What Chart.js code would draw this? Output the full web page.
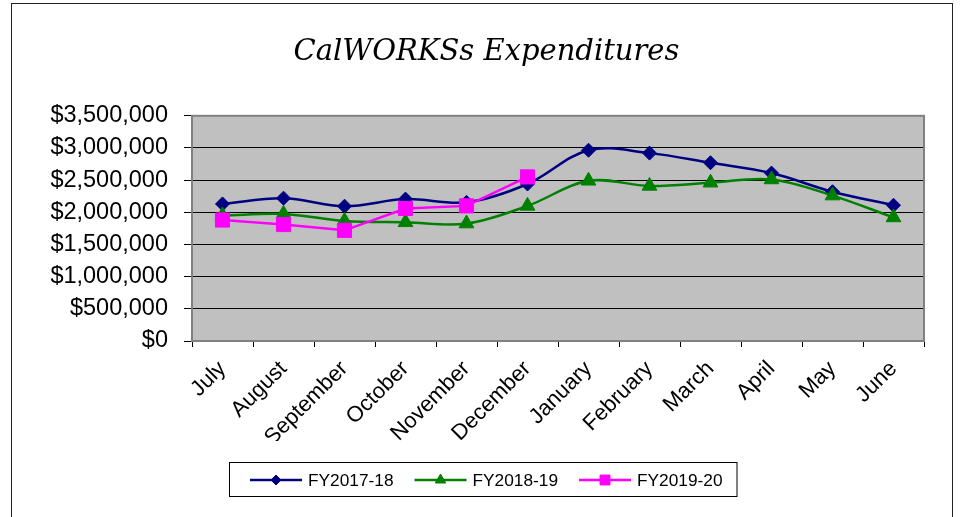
<!DOCTYPE html>
<html>
<head>
<meta charset="utf-8">
<script src="https://cdn.jsdelivr.net/npm/chart.js@4.4.1/dist/chart.umd.min.js"></script>
<style>
  html, body { margin: 0; padding: 0; background: #fff; overflow: hidden; }
  #marco { position: absolute; left: 11px; top: 3px; width: 940px; height: 540px; border: 1px solid #222; }
  #lienzo { position: absolute; left: 0; top: 0; }
</style>
</head>
<body>
<div id="marco"></div>
<canvas id="lienzo" width="960" height="517"></canvas>
<script>
    // datos
    const meses = ['July', 'August', 'September', 'October', 'November', 'December',
                   'January', 'February', 'March', 'April', 'May', 'June'];
    const nombresSeries = ['FY2017-18', 'FY2018-19', 'FY2019-20'];
    const fy1718 = [2130000, 2220000, 2095000, 2205000, 2155000, 2440000, 2965000, 2920000, 2770000, 2610000, 2320000, 2110000];
    const fy1819 = [1950000, 1975000, 1865000, 1845000, 1825000, 2100000, 2490000, 2410000, 2460000, 2510000, 2260000, 1920000];
    const fy1920 = [1880000, 1810000, 1720000, 2060000, 2100000, 2550000, null, null, null, null, null, null];
    const ticksY = [0, 500000, 1000000, 1500000, 2000000, 2500000, 3000000, 3500000];

    const fuente = '"Liberation Sans", Arial, sans-serif';

    /* ------------------ PLUGINS ------------------ */
    // fondo gris del area de trazado y su borde
    const fondoGris = {
      id: 'fondoGris',
      beforeDraw(chart) {
        const {ctx, chartArea: a} = chart;
        ctx.save();
        ctx.fillStyle = '#C0C0C0';
        ctx.fillRect(a.left, a.top, a.width, a.height);
        ctx.restore();
      },
      beforeDatasetsDraw(chart) {
        const {ctx, chartArea: a} = chart;
        ctx.save();
        ctx.strokeStyle = '#808080';
        ctx.lineWidth = 2;
        ctx.strokeRect(a.left, a.top, a.width, a.height);
        ctx.restore();
      }
    };

    // leyenda con linea + marcador, como la de Excel
    const leyenda = {
      id: 'leyenda',
      afterDraw(chart) {
        const ctx = chart.ctx;
        const largo = 52, sep = 6, entre = 21, y = 480;
        ctx.save();
        ctx.font = '17.3px ' + fuente;
        const anchos = chart.data.datasets.map(ds => ctx.measureText(ds.label).width);
        const total = anchos.reduce((s, w) => s + largo + sep + w, 0) + entre * (anchos.length - 1);
        let x = Math.round(486 - total / 2);
        ctx.strokeStyle = '#000';
        ctx.lineWidth = 1;
        ctx.strokeRect(x - 21 + 0.5, 462.5, total + 35, 34);
        chart.data.datasets.forEach((ds, i) => {
          ctx.strokeStyle = ds.borderColor;
          ctx.lineWidth = 2.5;
          ctx.beginPath();
          ctx.moveTo(x, y);
          ctx.lineTo(x + largo, y);
          ctx.stroke();
          ctx.fillStyle = ds.borderColor;
          ctx.lineWidth = 1;
          Chart.helpers.drawPoint(ctx, {pointStyle: ds.pointStyle, radius: ds.radioLeyenda, rotation: 0, borderWidth: 1}, x + largo / 2, y);
          ctx.fillStyle = '#000';
          ctx.textBaseline = 'middle';
          ctx.textAlign = 'left';
          ctx.fillText(ds.label, x + largo + sep, y + 1);
          x += largo + sep + anchos[i] + entre;
        });
        ctx.restore();
      }
    };

    /* ------------------ GRAFICO ------------------ */
    const serie = (label, data, color, estilo, radio, radioLeyenda, tension, orden) => ({
      label, data,
      borderColor: color, backgroundColor: color,
      pointBackgroundColor: color, pointBorderColor: color,
      pointStyle: estilo, pointRadius: radio, pointHoverRadius: radio,
      pointBorderWidth: 1, borderWidth: 2.5, tension, order: orden,
      radioLeyenda
    });

    const ctxGrafico = document.getElementById('lienzo').getContext('2d');
    const grafico = new Chart(ctxGrafico, {
      type: 'line',
      data: {
        labels: meses,
        datasets: [
          serie(nombresSeries[0], fy1718, '#000080', 'rectRot', 7, 5, 0.35, 3),
          serie(nombresSeries[1], fy1819, '#008000', 'triangle', 8.5, 6, 0.35, 2),
          serie(nombresSeries[2], fy1920, '#FF00FF', 'rect', 10, 7, 0, 1)
        ]
      },
      options: {
        responsive: false,
        animation: false,
        layout: {padding: {left: 49, right: 36, top: 0, bottom: 76}},
        plugins: {
          legend: {display: false},
          tooltip: {enabled: false},
          title: {
            display: true,
            text: 'CalWORKSs Expenditures',
            color: '#000',
            font: {family: '"DejaVu Serif", serif', style: 'italic', weight: 'normal', size: 29, lineHeight: 1.2},
            padding: {top: 35, bottom: 46}
          }
        },
        scales: {
          x: {
            offset: true,
            grid: {offset: true, drawOnChartArea: false, drawTicks: true, tickLength: 6, color: '#000', tickColor: '#000'},
            border: {display: false},
            ticks: {color: '#000', font: {family: fuente, size: 22}, minRotation: 45, maxRotation: 45, autoSkip: false, padding: 9},
            afterFit(scale) { scale.height = 100; }
          },
          y: {
            min: ticksY[0],
            max: ticksY[ticksY.length - 1],
            afterBuildTicks(scale) { scale.ticks = ticksY.map(v => ({value: v})); },
            grid: {color: '#000', tickColor: '#000', tickLength: 8, lineWidth: 1},
            border: {display: false},
            ticks: {
              color: '#000', font: {family: fuente, size: 23.5}, padding: 16,
              callback: v => '$' + Number(v).toLocaleString('en-US')
            },
            afterFit(scale) { scale.width = 143; }
          }
        }
      },
      plugins: [fondoGris, leyenda]
    });
</script>
</body>
</html>
